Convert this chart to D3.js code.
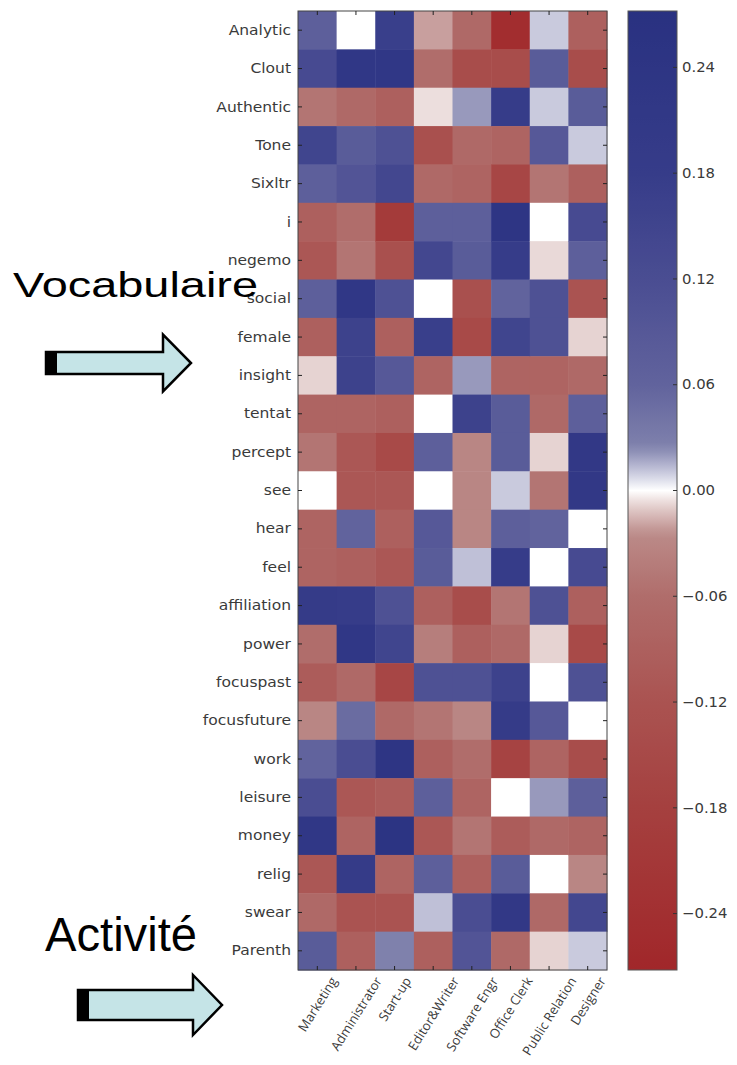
<!DOCTYPE html>
<html>
<head>
<meta charset="utf-8">
<script src="https://cdn.jsdelivr.net/npm/d3@7"></script>
<style>
  body { margin: 0; background: #fff; }
  svg { display: block; }
</style>
</head>
<body>
<svg id="chart" width="737" height="1065"></svg>
<script>
  // rows (LIWC features) and columns (activities)
  var rows = ["Analytic", "Clout", "Authentic", "Tone", "Sixltr", "i", "negemo", "social",
    "female", "insight", "tentat", "percept", "see", "hear", "feel", "affiliation", "power",
    "focuspast", "focusfuture", "work", "leisure", "money", "relig", "swear", "Parenth"];
  var cols = ["Marketing", "Administrator", "Start-up", "Editor&Writer", "Software Engr",
    "Office Clerk", "Public Relation", "Designer"];

  // one array per column, in row order
  var marketing     = [0.07, 0.13, -0.05, 0.15, 0.07, -0.09, -0.11, 0.07, -0.09, -0.008, -0.08, -0.05, 0, -0.08, -0.08, 0.19, -0.06, -0.10, -0.03, 0.06, 0.12, 0.22, -0.11, -0.07, 0.08];
  var administrator = [0, 0.22, -0.07, 0.08, 0.10, -0.06, -0.05, 0.22, 0.16, 0.16, -0.08, -0.11, -0.11, 0.06, -0.09, 0.18, 0.22, -0.07, 0.05, 0.12, -0.11, -0.08, 0.19, -0.12, -0.09];
  var startup       = [0.17, 0.22, -0.09, 0.11, 0.14, -0.20, -0.13, 0.11, -0.09, 0.09, -0.09, -0.15, -0.11, -0.09, -0.11, 0.11, 0.15, -0.16, -0.07, 0.24, -0.10, 0.25, -0.08, -0.12, 0.025];
  var editor        = [-0.02, -0.06, -0.006, -0.13, -0.07, 0.07, 0.14, 0, 0.17, -0.08, 0, 0.07, 0, 0.09, 0.08, -0.09, -0.04, 0.11, -0.05, -0.09, 0.07, -0.11, 0.07, 0.012, -0.09];
  var software      = [-0.07, -0.14, 0.02, -0.07, -0.08, 0.07, 0.08, -0.13, -0.15, 0.02, 0.16, -0.03, -0.03, -0.03, 0.012, -0.14, -0.09, 0.11, -0.03, -0.06, -0.08, -0.05, -0.09, 0.12, 0.10];
  var clerk         = [-0.25, -0.14, 0.18, -0.08, -0.16, 0.24, 0.18, 0.06, 0.15, -0.08, 0.08, 0.08, 0.01, 0.07, 0.18, -0.05, -0.07, 0.16, 0.19, -0.17, 0, -0.10, 0.08, 0.21, -0.07];
  var publicRel     = [0.01, 0.08, 0.01, 0.09, -0.05, 0, -0.007, 0.11, 0.11, -0.08, -0.07, -0.008, -0.05, 0.06, 0, 0.11, -0.008, 0, 0.09, -0.08, 0.02, -0.07, 0, -0.07, -0.008];
  var designer      = [-0.09, -0.14, 0.08, 0.01, -0.09, 0.13, 0.07, -0.12, -0.008, -0.07, 0.07, 0.21, 0.21, 0, 0.13, -0.09, -0.15, 0.11, 0, -0.14, 0.07, -0.08, -0.03, 0.14, 0.01];

  var columns = [marketing, administrator, startup, editor, software, clerk, publicRel, designer];
  var colorTicks = [-0.24, -0.18, -0.12, -0.06, 0, 0.06, 0.12, 0.18, 0.24];

  var cells = [];
  columns.forEach(function (arr, c) {
    arr.forEach(function (v, r) {
      cells.push({ row: rows[r], col: cols[c], value: v });
    });
  });

  var svg = d3.select("#chart");

  var x = d3.scaleBand().domain(cols).range([298, 607]);
  var y = d3.scaleBand().domain(rows).range([11, 970]);

  // diverging colour map, red - white - navy
  var color = d3.scaleLinear()
    .domain([-0.272, -0.18, -0.12, -0.06, -0.025, -0.008, 0, 0.008, 0.025, 0.06, 0.12, 0.18, 0.272])
    .range(["#a1272a", "#a5403f", "#aa5351", "#b06d6b", "#bb8a88", "#e6d3d2", "#ffffff",
            "#d3d4e4", "#7f81ac", "#61639d", "#4a4d92", "#363c89", "#293181"])
    .clamp(true);

  // heatmap cells
  svg.append("g")
    .selectAll("rect")
    .data(cells)
    .enter()
    .append("rect")
    .attr("x", function (d) { return x(d.col); })
    .attr("y", function (d) { return y(d.row); })
    .attr("width", x.bandwidth() + 0.5)
    .attr("height", y.bandwidth() + 0.5)
    .attr("fill", function (d) { return color(d.value); });

  svg.append("rect")
    .attr("x", 298).attr("y", 11)
    .attr("width", 309).attr("height", 959)
    .attr("fill", "none").attr("stroke", "#444").attr("stroke-width", 1);

  // inward ticks on all four sides
  var tk = svg.append("g").attr("stroke", "#222").attr("stroke-width", 1);
  rows.forEach(function (r) {
    var yy = y(r) + y.bandwidth() / 2;
    tk.append("line").attr("x1", 298).attr("x2", 302).attr("y1", yy).attr("y2", yy);
    tk.append("line").attr("x1", 607).attr("x2", 603).attr("y1", yy).attr("y2", yy);
  });
  cols.forEach(function (c) {
    var xx = x(c) + x.bandwidth() / 2;
    tk.append("line").attr("x1", xx).attr("x2", xx).attr("y1", 11).attr("y2", 15);
    tk.append("line").attr("x1", xx).attr("x2", xx).attr("y1", 970).attr("y2", 966);
  });

  // row labels
  svg.append("g")
    .selectAll("text")
    .data(rows)
    .enter()
    .append("text")
    .attr("transform", function (d) {
      return "translate(291," + (y(d) + y.bandwidth() / 2) + ") scale(1.15,1)";
    })
    .attr("text-anchor", "end")
    .attr("dominant-baseline", "central")
    .attr("font-family", "DejaVu Sans")
    .attr("font-size", 13.5)
    .attr("fill", "#3a3a3a")
    .text(function (d) { return d; });

  // column labels, rotated, centred under each tick
  var ang = 58;
  var colLabels = svg.append("g")
    .selectAll("text")
    .data(cols)
    .enter()
    .append("text")
    .attr("text-anchor", "middle")
    .attr("dominant-baseline", "central")
    .attr("font-family", "Open Sans")
    .attr("font-size", 13)
    .attr("fill", "#3a3a3a")
    .text(function (d) { return d; });
  colLabels.attr("transform", function (d) {
    var L = this.getComputedTextLength();
    var cy = 975 + (L / 2) * Math.sin(ang * Math.PI / 180) + 3;
    return "translate(" + (x(d) + x.bandwidth() / 2) + "," + cy + ") rotate(" + (-ang) + ")";
  });

  // colour bar
  var cb = d3.scaleLinear().domain([-0.272, 0.272]).range([970, 11]);
  var grad = svg.append("defs").append("linearGradient")
    .attr("id", "cbgrad")
    .attr("x1", 0).attr("y1", 1).attr("x2", 0).attr("y2", 0);
  d3.range(0, 101).forEach(function (i) {
    var v = -0.272 + 0.544 * i / 100;
    grad.append("stop").attr("offset", i + "%").attr("stop-color", color(v));
  });
  svg.append("rect")
    .attr("x", 628).attr("y", cb(0.272))
    .attr("width", 49).attr("height", cb(-0.272) - cb(0.272))
    .attr("fill", "url(#cbgrad)")
    .attr("stroke", "#555").attr("stroke-width", 1);

  var cbTicks = svg.append("g");
  colorTicks.forEach(function (t) {
    cbTicks.append("line")
      .attr("x1", 677).attr("x2", 673)
      .attr("y1", cb(t)).attr("y2", cb(t))
      .attr("stroke", "#333");
    cbTicks.append("text")
      .attr("transform", "translate(682," + cb(t) + ") scale(1.1,1)")
      .attr("dominant-baseline", "central")
      .attr("font-family", "DejaVu Sans")
      .attr("font-size", 13.5)
      .attr("fill", "#3a3a3a")
      .text(d3.format(".2f")(t).replace("-", "\u2212"));
  });

  // annotations
  svg.append("text")
    .attr("x", 13).attr("y", 297)
    .attr("font-family", "Liberation Sans")
    .attr("font-size", 35)
    .attr("textLength", 245)
    .attr("lengthAdjust", "spacingAndGlyphs")
    .attr("fill", "#000")
    .text("Vocabulaire");

  svg.append("text")
    .attr("x", 45).attr("y", 951)
    .attr("font-family", "Liberation Sans")
    .attr("font-size", 48)
    .attr("textLength", 152)
    .attr("lengthAdjust", "spacingAndGlyphs")
    .attr("fill", "#000")
    .text("Activit\u00e9");

  function blockArrow(x0, x1, headX, yMid, shaftH, headH) {
    var pts = [
      [x0, yMid - shaftH / 2], [headX, yMid - shaftH / 2], [headX, yMid - headH / 2],
      [x1, yMid], [headX, yMid + headH / 2], [headX, yMid + shaftH / 2], [x0, yMid + shaftH / 2]
    ];
    svg.append("polygon")
      .attr("points", pts.map(function (p) { return p.join(","); }).join(" "))
      .attr("fill", "#c5e4e7")
      .attr("stroke", "#000")
      .attr("stroke-width", 2.5)
      .attr("stroke-linejoin", "miter");
    svg.append("rect")
      .attr("x", x0).attr("y", yMid - shaftH / 2)
      .attr("width", 11).attr("height", shaftH)
      .attr("fill", "#000");
  }
  blockArrow(46, 191, 163, 363, 22, 57);
  blockArrow(78, 222, 193, 1005, 30, 60);
</script>
</body>
</html>
